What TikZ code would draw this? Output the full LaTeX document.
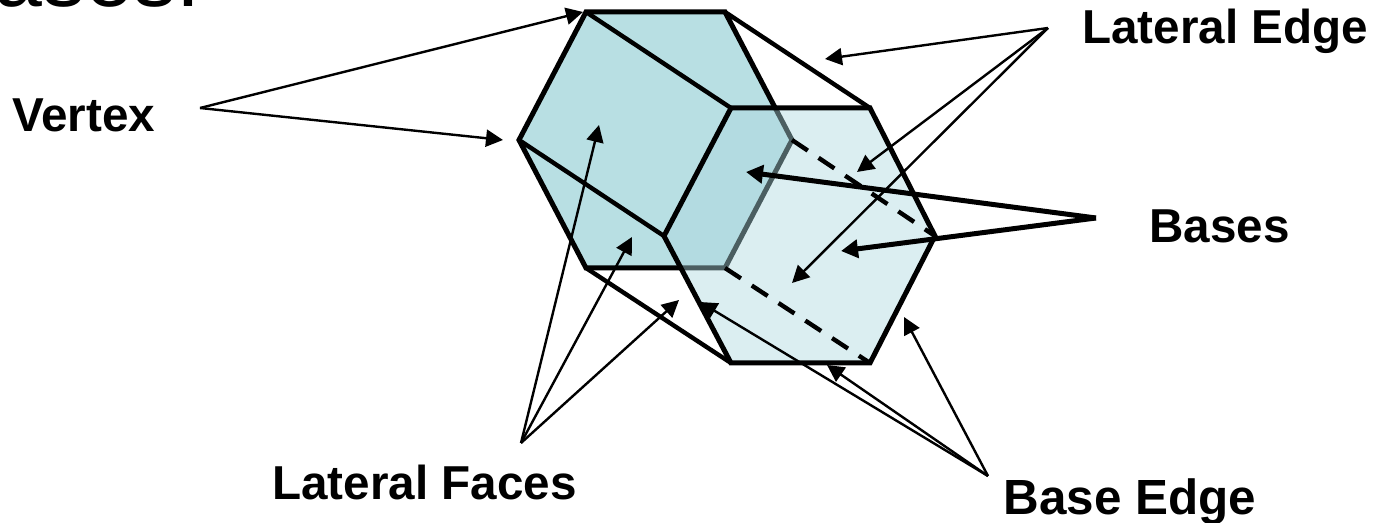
\documentclass[tikz,border=0pt]{standalone}
\usepackage{fontspec}
\setmainfont{Liberation Sans}
\usetikzlibrary{arrows.meta}
\definecolor{backface}{HTML}{B8DFE3}
\definecolor{frontface}{HTML}{ADD8DF}
\tikzset{
  tag/.style={anchor=base west, inner sep=0pt, font=\fontsize{23.8}{28}\selectfont\bfseries},
  edge/.style={line width=2.5pt},
  sideedge/.style={line width=2.2pt},
  hidden/.style={line width=2.2pt, dash pattern=on 9.5pt off 6.5pt},
  thinarrow/.style={line width=1.2pt, -{Triangle[length=8.5pt, width=8.5pt]}},
  thickarrow/.style={line width=2.5pt, -{Triangle[length=8.5pt, width=9pt]}}
}
\begin{document}
\begin{tikzpicture}[x=0.5pt, y=-0.5pt]
  \clip (0,0) rectangle (1373,523);
  % corners of the two hexagons
  \foreach \name/\pos in {ba/{586,12}, bb/{725,12}, bc/{792,140}, bd/{725,268}, be/{586,268}, bf/{519,140},
                          fa/{731,108}, fb/{870,108}, fc/{935,236}, fd/{870,363}, fe/{731,363}, ff/{664,236}}
    {\coordinate (\name) at (\pos);}
  % back face and side edges
  \filldraw[fill=backface, edge] (ba)--(bb)--(bc)--(bd)--(be)--(bf)--cycle;
  \draw[sideedge] (ba)--(fa);
  \draw[sideedge] (bb)--(fb);
  \draw[sideedge] (bf)--(ff);
  \draw[sideedge] (be)--(fe);
  % front face lies over them
  \fill[frontface, opacity=0.44] (fa)--(fb)--(fc)--(fd)--(fe)--(ff)--cycle;
  \draw[edge] (fa)--(fb)--(fc)--(fd)--(fe)--(ff)--cycle;
  \draw[hidden] (bc)--(fc);
  \draw[hidden] (bd)--(fd);
  % labels
  \node[tag, font=\fontsize{43}{50}\selectfont] (head) at (-6,6.5) {ases:};
  \node[tag] (vertex) at (12,132) {Vertex};
  \node[tag] (latedge) at (1082,44) {Lateral Edge};
  \node[tag] (bases) at (1149,243) {Bases};
  \node[tag] (latfaces) at (272,500) {Lateral Faces};
  \node[tag, font=\fontsize{24.7}{28}\selectfont\bfseries] (baseedge) at (1003,515) {Base Edge};
  % arrow starts and ends
  \coordinate (vsrc) at (200,108);
  \coordinate (lesrc) at (1048,28);
  \coordinate (bsrc) at (1096,218);
  \coordinate (lfsrc) at (521,443);
  \coordinate (besrc) at (988,476);
  \foreach \tx/\ty in {583/12, 503/140}
    {\coordinate (t) at (\tx,\ty); \draw[thinarrow] (vsrc)--(t);}
  \foreach \tx/\ty in {825/59, 857/172, 792/283}
    {\coordinate (t) at (\tx,\ty); \draw[thinarrow] (lesrc)--(t);}
  \foreach \tx/\ty in {746/172, 841/251}
    {\coordinate (t) at (\tx,\ty); \draw[thickarrow] (bsrc)--(t);}
  \foreach \tx/\ty in {599/125, 632/237, 679/300}
    {\coordinate (t) at (\tx,\ty); \draw[thinarrow] (lfsrc)--(t);}
  \foreach \tx/\ty in {700/302, 827/365, 904/317}
    {\coordinate (t) at (\tx,\ty); \draw[thinarrow] (besrc)--(t);}
\end{tikzpicture}
\end{document}
